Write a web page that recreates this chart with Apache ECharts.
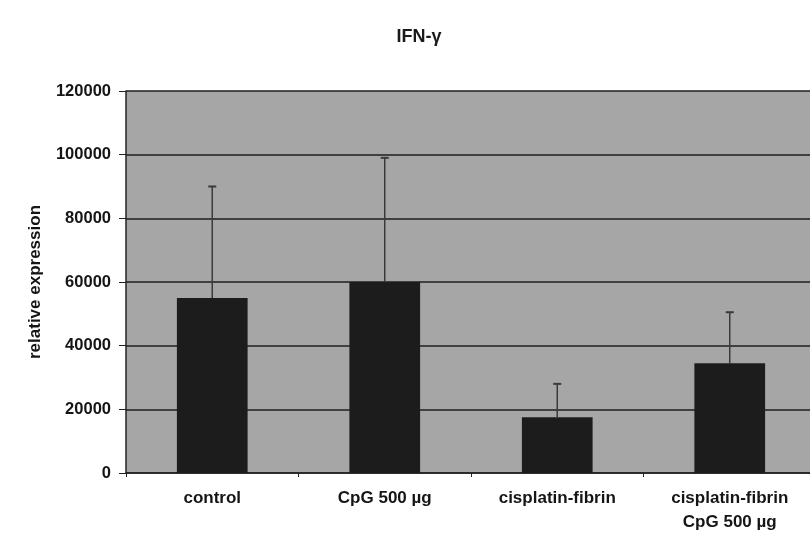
<!DOCTYPE html>
<html><head><meta charset="utf-8">
<script src="https://cdn.jsdelivr.net/npm/echarts@6/dist/echarts.min.js"></script>
<style>html,body{margin:0;padding:0;background:#fff}#c{width:810px;height:537px}</style>
</head><body><div id="c"></div>
<script>
const categories = ['control', 'CpG 500 µg', 'cisplatin-fibrin', 'cisplatin-fibrin\nCpG 500 µg'];
const means = [55000, 60000, 17500, 34500];
const errorTops = [90000, 99000, 28000, 50500];
const yTicks = [0, 20000, 40000, 60000, 80000, 100000, 120000];

const chart = echarts.init(document.getElementById('c'), null, {renderer: 'canvas'});
const FONT = '"Liberation Sans", Arial, sans-serif';
chart.setOption({
  backgroundColor: '#ffffff',
  animation: false,
  title: {
    text: 'IFN-γ', left: 414, top: 23, textAlign: 'center',
    textStyle: {fontFamily: FONT, fontSize: 18, fontWeight: 'bold', color: '#1a1a1a'}
  },
  grid: {left: 126, top: 91, width: 690, bottom: 64, show: true, backgroundColor: '#a6a6a6', borderWidth: 0,
    outerBoundsMode: 'none', containLabel: false},
  xAxis: {
    type: 'category', data: categories,
    axisLine: {lineStyle: {color: '#222', width: 1.5}},
    axisTick: {show: true, length: 4, lineStyle: {color: '#222'}},
    axisLabel: {fontFamily: FONT, fontSize: 17, fontWeight: 'bold', color: '#151515', margin: 13, lineHeight: 24}
  },
  yAxis: {
    type: 'value', min: yTicks[0], max: yTicks[yTicks.length - 1], interval: 20000,
    name: 'relative expression', nameLocation: 'middle', nameGap: 82, nameRotate: 90,
    nameTextStyle: {fontFamily: FONT, fontSize: 17, fontWeight: 'bold', color: '#151515'},
    axisLine: {show: true, lineStyle: {color: '#222', width: 1.5}},
    axisTick: {show: true, length: 7, lineStyle: {color: '#222'}},
    axisLabel: {fontFamily: FONT, fontSize: 16.5, fontWeight: 'bold', color: '#151515', margin: 15,
      formatter: v => String(v)},
    splitLine: {show: true, lineStyle: {color: '#1e1e1e', width: 1.5}}
  },
  series: [
    {
      type: 'bar', data: means, barWidth: '41%',
      itemStyle: {color: '#1c1c1c'}, z: 3
    },
    {
      type: 'custom', z: 4,
      data: means.map((m, i) => [i, m, errorTops[i]]),
      renderItem: function (params, api) {
        const i = api.value(0);
        const base = api.coord([i, api.value(1)]);
        const top = api.coord([i, api.value(2)]);
        const hw = 4;
        return {
          type: 'group',
          children: [
            {type: 'line', shape: {x1: base[0], y1: base[1], x2: top[0], y2: top[1]}, style: {stroke: '#3a3a3a', lineWidth: 1.5}},
            {type: 'line', shape: {x1: top[0] - hw, y1: top[1], x2: top[0] + hw, y2: top[1]}, style: {stroke: '#3a3a3a', lineWidth: 2}}
          ]
        };
      }
    }
  ]
});
</script></body></html>
